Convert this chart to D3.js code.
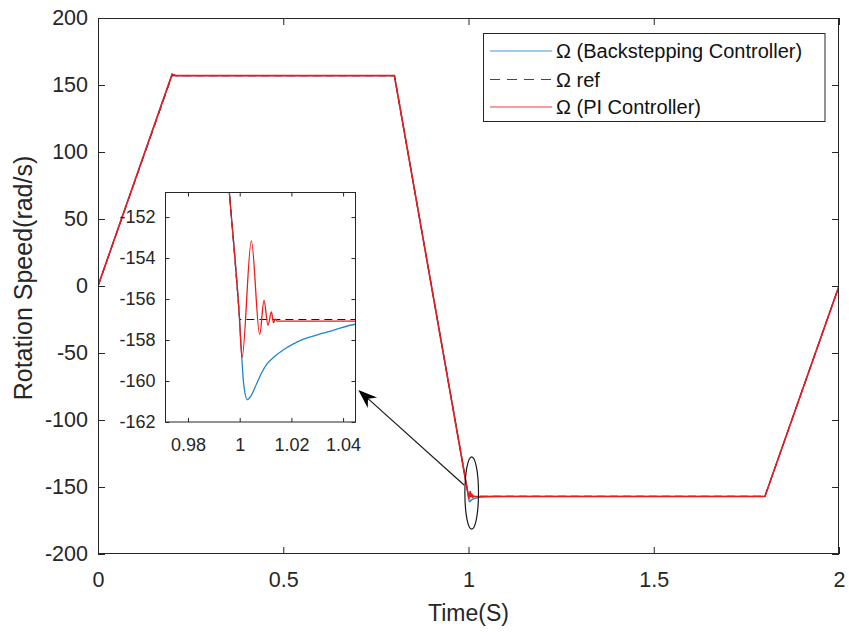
<!DOCTYPE html>
<html>
<head>
<meta charset="utf-8">
<script src="https://cdn.jsdelivr.net/npm/d3@7"></script>
<style>
  html, body { margin: 0; padding: 0; background: #fff; }
  svg { display: block; font-family: "Liberation Sans", Arial, sans-serif; }
</style>
</head>
<body>
<svg id="chart" width="849" height="632"></svg>
<script>
// ---------------- DATA ----------------
const xTicks = [0, 0.5, 1, 1.5, 2];
const yTicks = [-200, -150, -100, -50, 0, 50, 100, 150, 200];
const insetXTicks = [0.98, 1, 1.02, 1.04];
const insetYTicks = [-162, -160, -158, -156, -154, -152];

// Reference speed
const timeRef  = [0, 0.2, 0.8, 1.0, 1.8, 2.0];
const speedRef = [0, 157, 157, -157, -157, 0];

// Backstepping controller
const timeBS  = [0, 0.2, 0.21, 0.8, 0.9960, 0.9998, 1.0008, 1.0015, 1.0030, 1.0045, 1.0065, 1.0085, 1.0105, 1.0135, 1.0168, 1.0206, 1.0245, 1.0297, 1.0361, 1.0448, 1.06, 1.1, 1.8, 2.0];
const speedBS = [0, 158.2, 157, 157, -150.8, -156.7, -158.8, -160.1, -160.91, -160.7, -160.15, -159.6, -159.18, -158.8, -158.49, -158.2, -157.97, -157.76, -157.53, -157.23, -157.1, -157.0, -157.0, 0];

// PI controller
const timePI  = [0, 0.2, 0.21, 0.8, 0.9960, 0.9998, 1.0009, 1.00451, 1.00774, 1.00941, 1.01096, 1.01225, 1.0131, 1.0138, 1.0146, 1.8, 2.0];
const speedPI = [0, 157.9, 157, 157, -150.8, -156.7, -158.86, -153.16, -157.73, -156.07, -157.28, -156.63, -157.15, -156.98, -157.08, -157.08, 0];

const legendLabels = ["\u03A9 (Backstepping Controller)", "\u03A9 ref", "\u03A9 (PI Controller)"];

// annotation (data units of the main axes)
const ellipseCenter = [1.0086, -154.5];
const ellipseRadii  = [0.0184, 27];
const arrowFrom = [0.988, -148.5];
const arrowTo   = [0.7026, -77.6];

// ---------------- LAYOUT ----------------
const svg = d3.select("#chart");
const axisColor = "#262626";
const blue = "#1f86d0", red = "#ee1a1a";

const P = {left: 98, right: 839, top: 18, bottom: 554};
const x = d3.scaleLinear().domain([0, 2]).range([P.left, P.right]);
const y = d3.scaleLinear().domain([-200, 200]).range([P.bottom, P.top]);

const series = [
  {t: timeBS, v: speedBS, color: blue, dash: null, w: 1.4, legDash: null},
  {t: timeRef, v: speedRef, color: "#1a1a1a", dash: "8,5", w: 1.1, linear: true, legDash: "10,7"},
  {t: timePI, v: speedPI, color: red, dash: null, w: 1.6, legDash: null}
];
const pts = s => s.t.map((d, i) => [d, s.v[i]]);

svg.append("rect").attr("width", 849).attr("height", 632).attr("fill", "#fff");

const defs = svg.append("defs");
defs.append("clipPath").attr("id", "clipMain").append("rect")
  .attr("x", P.left).attr("y", P.top).attr("width", P.right - P.left).attr("height", P.bottom - P.top);

function styleAxis(g) {
  g.select(".domain").remove();
  g.selectAll("line").attr("stroke", axisColor).attr("stroke-width", 1);
  g.selectAll("text").attr("fill", axisColor);
}

// main axes
const tk = 7;
svg.append("g").attr("transform", `translate(0,${P.bottom})`)
  .call(d3.axisBottom(x).tickValues(xTicks).tickFormat(d => String(d)).tickSizeInner(-tk).tickSizeOuter(0).tickPadding(18))
  .call(styleAxis).selectAll("text").attr("font-size", 21.5);
svg.append("g").attr("transform", `translate(0,${P.top})`)
  .call(d3.axisTop(x).tickValues(xTicks).tickFormat("").tickSizeInner(-tk).tickSizeOuter(0))
  .call(styleAxis);
svg.append("g").attr("transform", `translate(${P.left},0)`)
  .call(d3.axisLeft(y).tickValues(yTicks).tickFormat(d => String(d)).tickSizeInner(-tk).tickSizeOuter(0).tickPadding(10))
  .call(styleAxis).selectAll("text").attr("font-size", 21.5);
svg.append("g").attr("transform", `translate(${P.right},0)`)
  .call(d3.axisRight(y).tickValues(yTicks).tickFormat("").tickSizeInner(-tk).tickSizeOuter(0))
  .call(styleAxis);

// lines main
const lineMain = d3.line().x(d => x(d[0])).y(d => y(d[1]));
const gMain = svg.append("g").attr("clip-path", "url(#clipMain)");
series.forEach(s => {
  gMain.append("path").datum(pts(s))
    .attr("d", lineMain).attr("fill", "none")
    .attr("stroke", s.color).attr("stroke-width", s.w)
    .attr("stroke-dasharray", s.dash);
});

// box
svg.append("rect").attr("x", P.left + 0.5).attr("y", P.top + 0.5)
  .attr("width", P.right - P.left - 1).attr("height", P.bottom - P.top - 1)
  .attr("fill", "none").attr("stroke", axisColor).attr("stroke-width", 1);

// axis labels
svg.append("text").attr("x", (P.left + P.right) / 2).attr("y", 621)
  .attr("text-anchor", "middle").attr("font-size", 23).attr("fill", axisColor).text("Time(S)");
svg.append("text").attr("transform", `translate(32,278) rotate(-90)`)
  .attr("text-anchor", "middle").attr("font-size", 25).attr("fill", axisColor).text("Rotation Speed(rad/s)");

// legend
const L = {x: 483.5, y: 33.5, w: 341.5, h: 88};
const gL = svg.append("g");
gL.append("rect").attr("x", L.x).attr("y", L.y).attr("width", L.w).attr("height", L.h)
  .attr("fill", "#fff").attr("stroke", axisColor).attr("stroke-width", 1);
const rowY = [51, 79.5, 107];
series.forEach((s, i) => {
  gL.append("line").attr("x1", 490).attr("x2", 552).attr("y1", rowY[i]).attr("y2", rowY[i])
    .attr("stroke", s.color).attr("stroke-width", 1.2).attr("stroke-dasharray", s.legDash)
    .attr("opacity", i === 1 ? 0.8 : 0.85);
  gL.append("text").attr("x", 556).attr("y", rowY[i]).attr("dy", "0.36em")
    .attr("font-size", 20).attr("fill", "#111").text(legendLabels[i]);
});

// ---------------- INSET ----------------
const I = {left: 165.5, right: 355.5, top: 192.5, bottom: 422};
const ix = d3.scaleLinear().domain([0.9713, 1.0448]).range([I.left, I.right]);
const iy = d3.scaleLinear().domain([-162, -150.8]).range([I.bottom, I.top]);
defs.append("clipPath").attr("id", "clipInset").append("rect")
  .attr("x", I.left).attr("y", I.top).attr("width", I.right - I.left).attr("height", I.bottom - I.top);

svg.append("rect").attr("x", I.left).attr("y", I.top).attr("width", I.right - I.left).attr("height", I.bottom - I.top)
  .attr("fill", "#fff");

const itk = 4;
svg.append("g").attr("transform", `translate(0,${I.bottom})`)
  .call(d3.axisBottom(ix).tickValues(insetXTicks).tickFormat(d => String(d)).tickSizeInner(-itk).tickSizeOuter(0).tickPadding(16))
  .call(styleAxis).selectAll("text").attr("font-size", 18);
svg.append("g").attr("transform", `translate(0,${I.top})`)
  .call(d3.axisTop(ix).tickValues(insetXTicks).tickFormat("").tickSizeInner(-itk).tickSizeOuter(0))
  .call(styleAxis);
svg.append("g").attr("transform", `translate(${I.left},0)`)
  .call(d3.axisLeft(iy).tickValues(insetYTicks).tickFormat(d => String(d)).tickSizeInner(-itk).tickSizeOuter(0).tickPadding(10))
  .call(styleAxis).selectAll("text").attr("font-size", 18);
svg.append("g").attr("transform", `translate(${I.right},0)`)
  .call(d3.axisRight(iy).tickValues(insetYTicks).tickFormat("").tickSizeInner(-itk).tickSizeOuter(0))
  .call(styleAxis);

const gIn = svg.append("g").attr("clip-path", "url(#clipInset)");
series.forEach(s => {
  const ln = d3.line().x(d => ix(d[0])).y(d => iy(d[1]))
    .curve(s.linear ? d3.curveLinear : d3.curveMonotoneX);
  gIn.append("path").datum(pts(s))
    .attr("d", ln).attr("fill", "none")
    .attr("stroke", s.color).attr("stroke-width", s.linear ? 1.1 : 1.3)
    .attr("stroke-dasharray", s.dash);
});
svg.append("rect").attr("x", I.left).attr("y", I.top).attr("width", I.right - I.left).attr("height", I.bottom - I.top)
  .attr("fill", "none").attr("stroke", axisColor).attr("stroke-width", 1);

// ---------------- ANNOTATIONS ----------------
const ecx = x(ellipseCenter[0]), ecy = y(ellipseCenter[1]);
svg.append("ellipse").attr("cx", ecx).attr("cy", ecy)
  .attr("rx", x(ellipseCenter[0] + ellipseRadii[0]) - ecx)
  .attr("ry", ecy - y(ellipseCenter[1] + ellipseRadii[1]))
  .attr("fill", "none").attr("stroke", "#1a1a1a").attr("stroke-width", 1.2);

const ax0 = x(arrowFrom[0]), ay0 = y(arrowFrom[1]);
const ax1 = x(arrowTo[0]), ay1 = y(arrowTo[1]);
const ang = Math.atan2(ay1 - ay0, ax1 - ax0);
const hl = 19, hw = 7, notch = 6;
const ux = Math.cos(ang), uy = Math.sin(ang);
const bx = ax1 - ux * hl, by = ay1 - uy * hl;
const nx = ax1 - ux * (hl - notch), ny = ay1 - uy * (hl - notch);
svg.append("line").attr("x1", ax0).attr("y1", ay0).attr("x2", nx).attr("y2", ny)
  .attr("stroke", "#1a1a1a").attr("stroke-width", 1.2);
svg.append("path")
  .attr("d", `M${ax1},${ay1} L${bx - uy * hw},${by + ux * hw} L${nx},${ny} L${bx + uy * hw},${by - ux * hw} Z`)
  .attr("fill", "#000");
</script>
</body>
</html>
